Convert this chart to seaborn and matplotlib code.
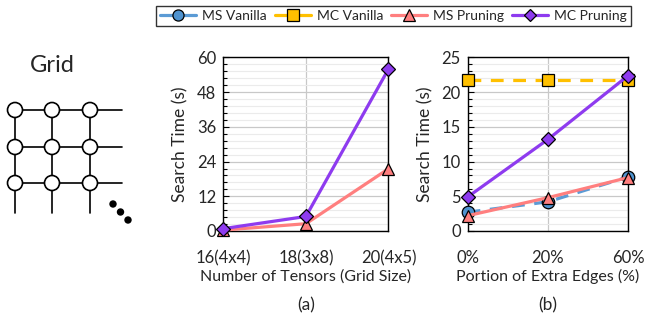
import numpy as np
import pandas as pd
import matplotlib
matplotlib.use('Agg')
import matplotlib.pyplot as plt
from matplotlib.ticker import MultipleLocator, AutoMinorLocator, FixedLocator
from matplotlib.lines import Line2D
import seaborn as sns

# Data
grid_labels = ['16(4x4)', '18(3x8)', '20(4x5)']
grid_ms_pruning = [0.3, 2.5, 21.5]
grid_mc_pruning = [0.8, 5.0, 56.0]

edge_labels = ['0%', '20%', '60%']
edge_ms_vanilla = [2.7, 4.2, 7.8]
edge_mc_vanilla = [21.7, 21.7, 21.7]
edge_ms_pruning = [2.2, 4.8, 7.7]
edge_mc_pruning = [4.9, 13.2, 22.4]

series_names = ['MS Vanilla', 'MC Vanilla', 'MS Pruning', 'MC Pruning']
line_colors = ['#5B9BD5', '#FFC000', '#FF7F7F', '#8E3BEF']
marker_colors = ['#4F93CF', '#FFC000', '#FF7F7F', '#8E3BEF']
markers = ['o', 's', '^', 'D']
dashed = [True, True, False, False]

sns.set_theme(style='white')
plt.rcParams['font.family'] = ['Lato', 'DejaVu Sans']
plt.rcParams['font.size'] = 10

fig = plt.figure(figsize=(6.54, 3.23), dpi=100)


def draw_series(ax, labels, values, idx):
    df = pd.DataFrame({'x': np.arange(len(labels)), 'y': values})
    sns.lineplot(data=df, x='x', y='y', ax=ax, color=line_colors[idx],
                 linewidth=2.3, linestyle=(0, (4, 3)) if dashed[idx] else '-',
                 marker=markers[idx], markersize=9 if markers[idx] != 'D' else 7,
                 markerfacecolor=marker_colors[idx], markeredgecolor='black',
                 markeredgewidth=0.9, clip_on=False, zorder=3)


def style_axes(ax, labels, ymax, ystep, xlabel, caption):
    ax.set_xlim(0, len(labels) - 1)
    ax.set_ylim(0, ymax)
    ax.xaxis.set_major_locator(FixedLocator(range(len(labels))))
    ax.set_xticklabels(labels)
    ax.yaxis.set_major_locator(MultipleLocator(ystep))
    ax.yaxis.set_minor_locator(AutoMinorLocator(5))
    ax.grid(True, which='major', color='#C8C8C8', linewidth=0.9)
    ax.grid(True, which='minor', axis='y', color='#EBEBEB', linewidth=0.8)
    ax.set_axisbelow(True)
    for s in ax.spines.values():
        s.set_color('black')
        s.set_linewidth(1.0)
    ax.tick_params(axis='y', which='both', left=True, direction='in', length=3,
                   width=0.8, color='black', labelsize=12, pad=5)
    ax.tick_params(axis='y', which='major', length=4)
    ax.tick_params(axis='x', bottom=False, labelsize=12, pad=8)
    ax.set_xlabel(xlabel, fontsize=11.5, labelpad=2)
    ax.set_ylabel('Search Time (s)', fontsize=12.5, labelpad=6)
    ax.text(0.5, -0.38, caption, transform=ax.transAxes, ha='center',
            va='top', fontsize=12.5)


# (a) grid size
ax_a = fig.add_axes([0.3415, 0.285, 0.2525, 0.537])
draw_series(ax_a, grid_labels, grid_ms_pruning, 2)
draw_series(ax_a, grid_labels, grid_mc_pruning, 3)
style_axes(ax_a, grid_labels, 60, 12, 'Number of Tensors (Grid Size)', '(a)')

# (b) extra edges
ax_b = fig.add_axes([0.7151, 0.285, 0.2455, 0.537])
draw_series(ax_b, edge_labels, edge_ms_vanilla, 0)
draw_series(ax_b, edge_labels, edge_mc_vanilla, 1)
draw_series(ax_b, edge_labels, edge_ms_pruning, 2)
draw_series(ax_b, edge_labels, edge_mc_pruning, 3)
style_axes(ax_b, edge_labels, 25, 5, 'Portion of Extra Edges (%)', '(b)')

# legend
handles = [Line2D([0], [0], color=line_colors[i], linewidth=2.3,
                  marker=markers[i], markersize=8 if markers[i] != 'D' else 6,
                  markerfacecolor=marker_colors[i], markeredgecolor='black',
                  markeredgewidth=0.9) for i in range(4)]
leg = fig.legend(handles, series_names, loc='center', ncol=4,
                 bbox_to_anchor=(0.6017, 0.95), frameon=True, fancybox=False,
                 edgecolor='black', fontsize=10, handlelength=2.6,
                 columnspacing=0.6, handletextpad=0.4, borderpad=0.3)
leg.get_frame().set_linewidth(1.0)

# grid graph illustration
ax_g = fig.add_axes([0, 0, 0.25, 1])
ax_g.set_xlim(0, 163.5)
ax_g.set_ylim(323, 0)
ax_g.axis('off')
xs = [15, 52, 90]
ys = [110, 147, 183]
for y in ys:
    ax_g.plot([xs[0], 122], [y, y], color='black', lw=1.2, zorder=1)
for x in xs:
    ax_g.plot([x, x], [ys[0], 213], color='black', lw=1.2, zorder=1)
for x in xs:
    for y in ys:
        ax_g.add_patch(plt.Circle((x, y), 7.5, facecolor='white',
                                  edgecolor='black', lw=1.2, zorder=2))
for dx, dy in [(113, 204), (120.5, 212), (128, 220)]:
    ax_g.add_patch(plt.Circle((dx, dy), 3, color='black', zorder=2))
ax_g.text(52, 66, 'Grid', ha='center', va='center', fontsize=17)

fig.savefig('out.png', dpi=100)
